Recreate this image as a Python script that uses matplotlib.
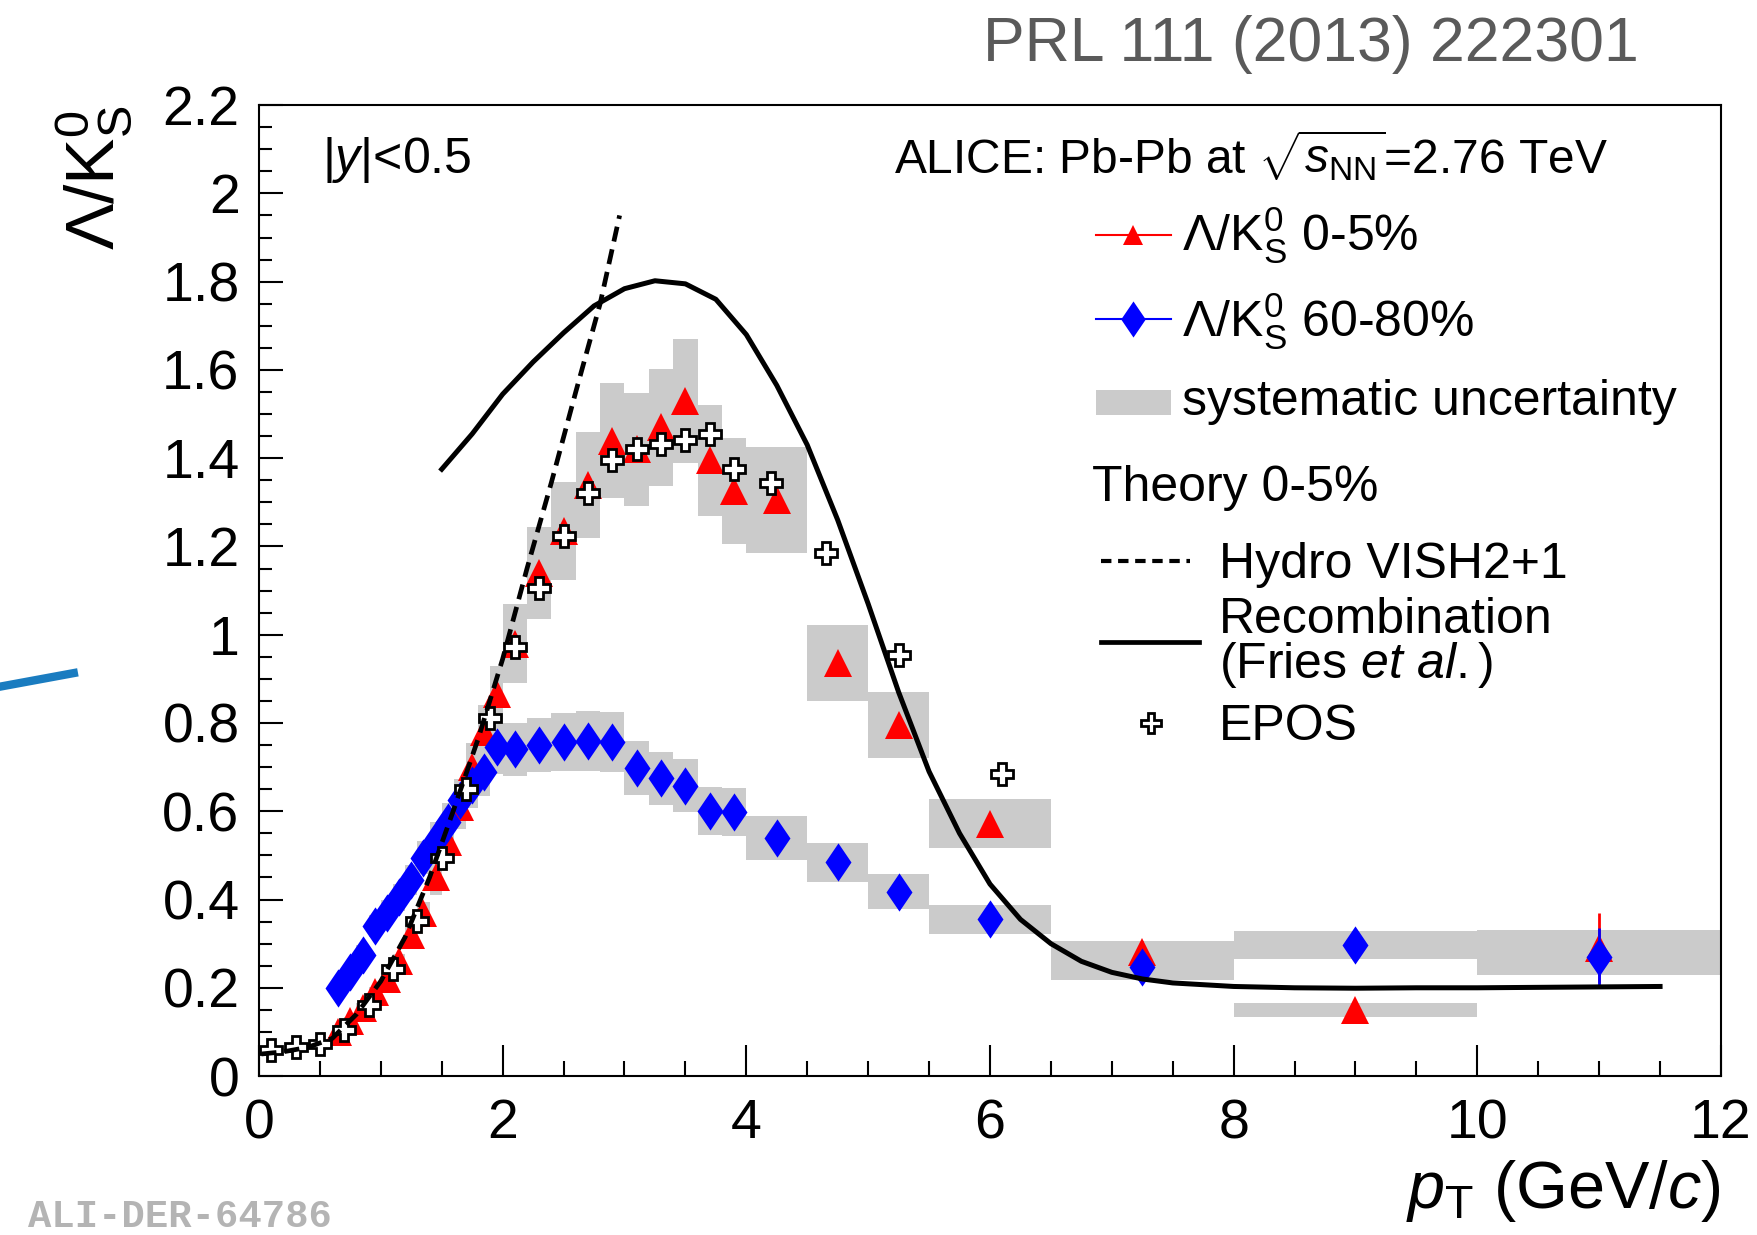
import numpy as np
import matplotlib
matplotlib.use('Agg')
import matplotlib.pyplot as plt
from matplotlib.lines import Line2D
from matplotlib.patches import Rectangle
from matplotlib.ticker import MultipleLocator, FuncFormatter

plt.rcParams['font.family'] = ['Liberation Sans', 'DejaVu Sans']
plt.rcParams['mathtext.fontset'] = 'custom'
plt.rcParams['mathtext.rm'] = 'Liberation Sans'
plt.rcParams['mathtext.it'] = 'Liberation Sans:italic'
plt.rcParams['mathtext.bf'] = 'Liberation Sans:bold'

# =========================
# DONNEES
# =========================
# bornes des bins en pT (GeV/c), communes aux deux centralites
pt_edges = [0.6, 0.7, 0.8, 0.9, 1.0, 1.1, 1.2, 1.3, 1.4, 1.5, 1.6, 1.7, 1.8, 1.9, 2.0,
            2.2, 2.4, 2.6, 2.8, 3.0, 3.2, 3.4, 3.6, 3.8, 4.0, 4.5, 5.0, 5.5, 6.5, 8.0,
            10.0, 12.0]

# Lambda/K0S 0-5%
ratio_0_5 = [0.10, 0.125, 0.155, 0.19, 0.22, 0.26, 0.32, 0.37, 0.45, 0.53, 0.61, 0.70,
             0.78, 0.865, 0.98, 1.14, 1.235, 1.34, 1.44, 1.42, 1.47, 1.53, 1.395, 1.325,
             1.305, 0.935, 0.795, 0.572, 0.28, 0.15, 0.29]
sys_0_5 = [0.006, 0.008, 0.01, 0.012, 0.014, 0.017, 0.02, 0.024, 0.04, 0.045, 0.05, 0.055,
           0.06, 0.065, 0.089, 0.105, 0.11, 0.12, 0.13, 0.128, 0.133, 0.14, 0.125, 0.12,
           0.12, 0.086, 0.075, 0.056, 0.026, 0.016, 0.04]
stat_0_5 = [0, 0, 0, 0, 0, 0, 0, 0, 0, 0, 0, 0, 0, 0, 0, 0, 0, 0, 0, 0, 0, 0, 0, 0,
            0, 0.01, 0.01, 0.015, 0.025, 0.02, 0.08]

# Lambda/K0S 60-80%
ratio_60_80 = [0.20, 0.235, 0.275, 0.34, 0.37, 0.405, 0.445, 0.495, 0.535, 0.575, 0.625,
               0.66, 0.69, 0.745, 0.74, 0.75, 0.757, 0.76, 0.757, 0.698, 0.675, 0.658,
               0.60, 0.598, 0.539, 0.484, 0.418, 0.355, 0.248, 0.297, 0.27]
sys_60_80 = [0.015, 0.018, 0.021, 0.025, 0.028, 0.031, 0.034, 0.037, 0.04, 0.044, 0.048,
             0.052, 0.055, 0.06, 0.06, 0.062, 0.065, 0.068, 0.068, 0.062, 0.06, 0.06,
             0.054, 0.054, 0.05, 0.044, 0.039, 0.033, 0.03, 0.032, 0.04]
stat_60_80 = [0, 0, 0, 0, 0, 0, 0, 0, 0, 0, 0, 0, 0, 0, 0, 0, 0, 0, 0, 0, 0, 0, 0, 0,
              0, 0.01, 0.01, 0.015, 0.03, 0.025, 0.066]

# EPOS 0-5%
epos_pt = [0.1, 0.3, 0.5, 0.7, 0.9, 1.1, 1.3, 1.5, 1.7, 1.9, 2.1, 2.3, 2.5, 2.7, 2.9,
           3.1, 3.3, 3.5, 3.7, 3.9, 4.2, 4.65, 5.25, 6.1]
epos_ratio = [0.06, 0.066, 0.072, 0.105, 0.162, 0.242, 0.352, 0.495, 0.65, 0.812, 0.973,
              1.105, 1.223, 1.321, 1.395, 1.42, 1.431, 1.441, 1.455, 1.376, 1.344, 1.186,
              0.955, 0.685]

# Hydro VISH2+1
hydro_pt = [0.02, 0.2, 0.4, 0.6, 0.8, 1.0, 1.2, 1.4, 1.6, 1.8, 2.0, 2.2, 2.4, 2.6, 2.8, 2.96]
hydro_ratio = [0.05, 0.055, 0.065, 0.085, 0.14, 0.215, 0.315, 0.45, 0.605, 0.765, 0.945,
               1.15, 1.345, 1.55, 1.75, 1.95]

# Recombinaison (Fries et al.)
reco_pt = [1.5, 1.75, 2.0, 2.25, 2.5, 2.75, 3.0, 3.25, 3.5, 3.75, 4.0, 4.25, 4.5, 4.75,
           5.0, 5.25, 5.5, 5.75, 6.0, 6.25, 6.5, 6.75, 7.0, 7.25, 7.5, 8.0, 8.5, 9.0,
           9.5, 10.0, 10.5, 11.0, 11.5]
reco_ratio = [1.375, 1.455, 1.545, 1.618, 1.684, 1.745, 1.784, 1.802, 1.795, 1.76, 1.68,
              1.565, 1.43, 1.26, 1.07, 0.87, 0.69, 0.55, 0.435, 0.355, 0.30, 0.26, 0.235,
              0.22, 0.211, 0.203, 0.2, 0.199, 0.2, 0.2, 0.201, 0.202, 0.203]

# =========================
# FIGURE
# =========================
edges = np.array(pt_edges)
pt_c = 0.5 * (edges[:-1] + edges[1:])
pt_w = np.diff(edges)

RED = '#ff0000'
BLUE = '#0000ff'
GREY = '#cbcbcb'
LAMK = r'$\mathrm{\Lambda/K}^{0}_{\mathrm{S}}$'

fig = plt.figure(figsize=(17.57, 12.35), dpi=100)
ax = fig.add_axes([0.1474, 0.1287, 0.8321, 0.7862])

# boites systematiques
for vals, sys in [(ratio_0_5, sys_0_5), (ratio_60_80, sys_60_80)]:
    v = np.array(vals)
    s = np.array(sys)
    ax.bar(pt_c, 2 * s, bottom=v - s, width=pt_w, color=GREY, linewidth=0, zorder=1)

# diamant fin
diamond = [(0, 1), (0.68, 0), (0, -1), (-0.68, 0), (0, 1)]

ax.errorbar(pt_c, ratio_0_5, yerr=stat_0_5, fmt='^', color=RED, ms=20, mew=0,
            elinewidth=2, capsize=0, zorder=3)
ax.errorbar(pt_c, ratio_60_80, yerr=stat_60_80, fmt='none', ecolor=BLUE,
            elinewidth=2, capsize=0, zorder=4)
ax.plot(pt_c, ratio_60_80, ls='none', marker=diamond, color=BLUE, ms=27.5, mew=0, zorder=4)

ax.plot(epos_pt, epos_ratio, ls='none', marker='P', ms=16.5, mfc='white', mec='black',
        mew=2.0, zorder=5)

ax.plot(hydro_pt, hydro_ratio, color='black', lw=3.4, dashes=(3.2, 1.7), zorder=6)
ax.plot(reco_pt, reco_ratio, color='black', lw=3.6, zorder=6)

# axes
ax.set_xlim(0, 12)
ax.set_ylim(0, 2.2)
ax.xaxis.set_major_locator(MultipleLocator(2))
ax.xaxis.set_minor_locator(MultipleLocator(0.5))
ax.yaxis.set_major_locator(MultipleLocator(0.2))
ax.yaxis.set_minor_locator(MultipleLocator(0.05))
ax.yaxis.set_major_formatter(FuncFormatter(lambda v, p: '%g' % round(v, 2)))
ax.tick_params(which='both', direction='in', top=False, right=False, width=1.5,
               labelsize=40)
ax.tick_params(axis='x', which='major', length=22, pad=16)
ax.tick_params(axis='x', which='minor', length=11)
ax.tick_params(axis='y', which='major', length=17, pad=14)
ax.tick_params(axis='y', which='minor', length=9)
for sp in ax.spines.values():
    sp.set_linewidth(1.5)

ax.text(1.0, -0.136, r'$p_{\mathrm{T}}$ (GeV/$c$)', transform=ax.transAxes,
        ha='right', va='baseline', fontsize=48)
ax.text(-0.112, 1.0, LAMK, transform=ax.transAxes,
        ha='center', va='top', rotation=90, fontsize=50)

ax.text(0.043, 0.93, r'|$y$|<0.5', transform=ax.transAxes, ha='left', va='baseline',
        fontsize=36)
ax.text(0.4345, 0.93, r'ALICE: Pb-Pb at $\sqrt{s_{\mathrm{NN}}}$=2.76 TeV',
        transform=ax.transAxes, ha='left', va='baseline', fontsize=34.5)

# legende manuelle
tr = ax.transAxes
lx0, lx1, tx = 0.5724, 0.6238, 0.6314
ax.add_line(Line2D([lx0, lx1], [0.866, 0.866], color=RED, lw=1.5, transform=tr, zorder=7))
ax.plot([0.5981], [0.866], marker='^', color=RED, ms=15, mew=0, transform=tr, zorder=8)
ax.text(tx, 0.85, LAMK + ' 0-5%', transform=tr,
        ha='left', va='baseline', fontsize=36)
ax.add_line(Line2D([lx0, lx1], [0.7794, 0.7794], color=BLUE, lw=1.5, transform=tr, zorder=7))
ax.plot([0.5981], [0.7794], marker=diamond, color=BLUE, ms=26, mew=0, transform=tr, zorder=8)
ax.text(tx, 0.762, LAMK + ' 60-80%', transform=tr,
        ha='left', va='baseline', fontsize=36)
ax.add_patch(Rectangle((lx0, 0.6813), lx1 - lx0, 0.0254, color=GREY, lw=0, transform=tr))
ax.text(tx, 0.681, 'systematic uncertainty', transform=tr, ha='left', va='baseline',
        fontsize=36)
ax.text(0.570, 0.592, 'Theory 0-5%', transform=tr, ha='left', va='baseline', fontsize=36)
ax.add_line(Line2D([0.576, 0.637], [0.530, 0.530], color='black', lw=3, dashes=(2.5, 1.6),
                   transform=tr))
ax.text(0.6567, 0.5127, 'Hydro VISH2+1', transform=tr, ha='left', va='baseline', fontsize=36)
ax.add_line(Line2D([0.576, 0.643], [0.447, 0.447], color='black', lw=3.4, transform=tr))
ax.text(0.6567, 0.456, 'Recombination', transform=tr, ha='left', va='baseline', fontsize=36)
ax.text(0.6567, 0.41, r'(Fries $et$ $al.$)', transform=tr, ha='left', va='baseline',
        fontsize=36)
ax.plot([0.610], [0.3637], marker='P', ms=15, mfc='white', mec='black', mew=2.0,
        transform=tr, zorder=8)
ax.text(0.6567, 0.346, 'EPOS', transform=tr, ha='left', va='baseline', fontsize=36)

# textes hors cadre
fig.text(0.9329, 0.9636, 'PRL 111 (2013) 222301', color='#5a5a5a', fontsize=45,
         ha='right', va='center')
fig.text(0.016, 0.0146, 'ALI-DER-64786', color='#b4b4b4', fontsize=28,
         family='Liberation Mono', weight='bold', ha='left', va='center')

# trait bleu parasite a gauche
fig.add_artist(Line2D([0.0, 0.042], [0.444, 0.455], color='#1a7cc0', lw=6,
                      transform=fig.transFigure))

fig.savefig('out.png', dpi=100)
